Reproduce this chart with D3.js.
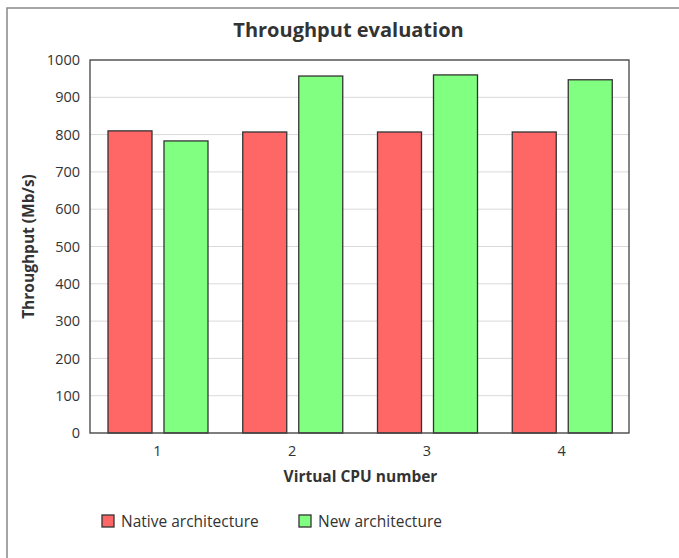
<!DOCTYPE html>
<html><head><meta charset="utf-8">
<script src="https://cdn.jsdelivr.net/npm/d3@7"></script>
<style>body{margin:0;background:#fff;}text{font-family:"Open Sans",sans-serif;fill:#333;}</style>
</head><body><svg id="c" width="679" height="558"></svg>
<script>
const categories = ["1","2","3","4"];
const seriesNames = ["Native architecture","New architecture"];
const nativeValues = [810, 807, 807, 807];
const newValues = [783, 957, 960, 947];
const yTicks = [0,100,200,300,400,500,600,700,800,900,1000];
const colors = ["#FF6666","#80FF80"];

const svg = d3.select("#c");
const m = {l:90, r:629, t:60, b:433};
svg.append("rect").attr("x",7).attr("y",8).attr("width",700).attr("height",600)
  .attr("fill","#fff").attr("stroke","#888").attr("stroke-width",1.5);

const x = d3.scaleBand().domain(categories).range([m.l,m.r]);
const xs = d3.scaleBand().domain([0,1]).range([18, 118]).paddingInner(12/56).paddingOuter(0);
const y = d3.scaleLinear().domain([0,1000]).range([m.b,m.t]);

svg.append("g").selectAll("line").data(yTicks).join("line")
  .attr("x1",m.l).attr("x2",m.r).attr("y1",d=>y(d)).attr("y2",d=>y(d))
  .attr("stroke","#d9d9d9").attr("stroke-width",1);

const data = categories.map((c,i)=>({c, v:[nativeValues[i], newValues[i]]}));
const g = svg.append("g");
data.forEach(d=>{
  d.v.forEach((v,j)=>{
    g.append("rect").attr("x",x(d.c)+xs(j)).attr("y",y(v))
      .attr("width",xs.bandwidth()).attr("height",y(0)-y(v))
      .attr("fill",colors[j]).attr("stroke","#333").attr("stroke-width",1.3);
  });
});

svg.append("rect").attr("x",m.l).attr("y",m.t).attr("width",m.r-m.l).attr("height",m.b-m.t)
  .attr("fill","none").attr("stroke","#444").attr("stroke-width",1.3);

const ya = svg.append("g").attr("transform",`translate(${m.l},0)`)
  .call(d3.axisLeft(y).tickValues(yTicks).tickSize(0).tickPadding(10).tickFormat(d3.format("d")));
ya.select(".domain").remove();
ya.selectAll("text").style("font-size","14.5px").style("font-family","Open Sans").attr("fill","#333");

const xa = svg.append("g").attr("transform",`translate(0,${m.b})`)
  .call(d3.axisBottom(x).tickSize(0).tickPadding(13));
xa.select(".domain").remove();
xa.selectAll("text").style("font-size","14.5px").style("font-family","Open Sans").attr("fill","#333");

svg.append("text").attr("x",348.5).attr("y",37).attr("text-anchor","middle")
  .style("font-size","20px").style("font-weight","bold").text("Throughput evaluation");
svg.append("text").attr("x",(m.l+m.r)/2+1).attr("y",482).attr("text-anchor","middle")
  .style("font-size","15.5px").style("font-weight","bold").text("Virtual CPU number");
svg.append("text").attr("transform",`translate(34,${(m.t+m.b)/2}) rotate(-90)`).attr("text-anchor","middle")
  .style("font-size","15.5px").style("font-weight","bold").text("Throughput (Mb/s)");

const legX = [102, 299];
seriesNames.forEach((n,i)=>{
  svg.append("rect").attr("x",legX[i]).attr("y",515).attr("width",12).attr("height",12)
    .attr("fill",colors[i]).attr("stroke","#333").attr("stroke-width",1.3);
  svg.append("text").attr("x",legX[i]+19).attr("y",527).style("font-size","15.5px").text(n);
});
</script></body></html>
